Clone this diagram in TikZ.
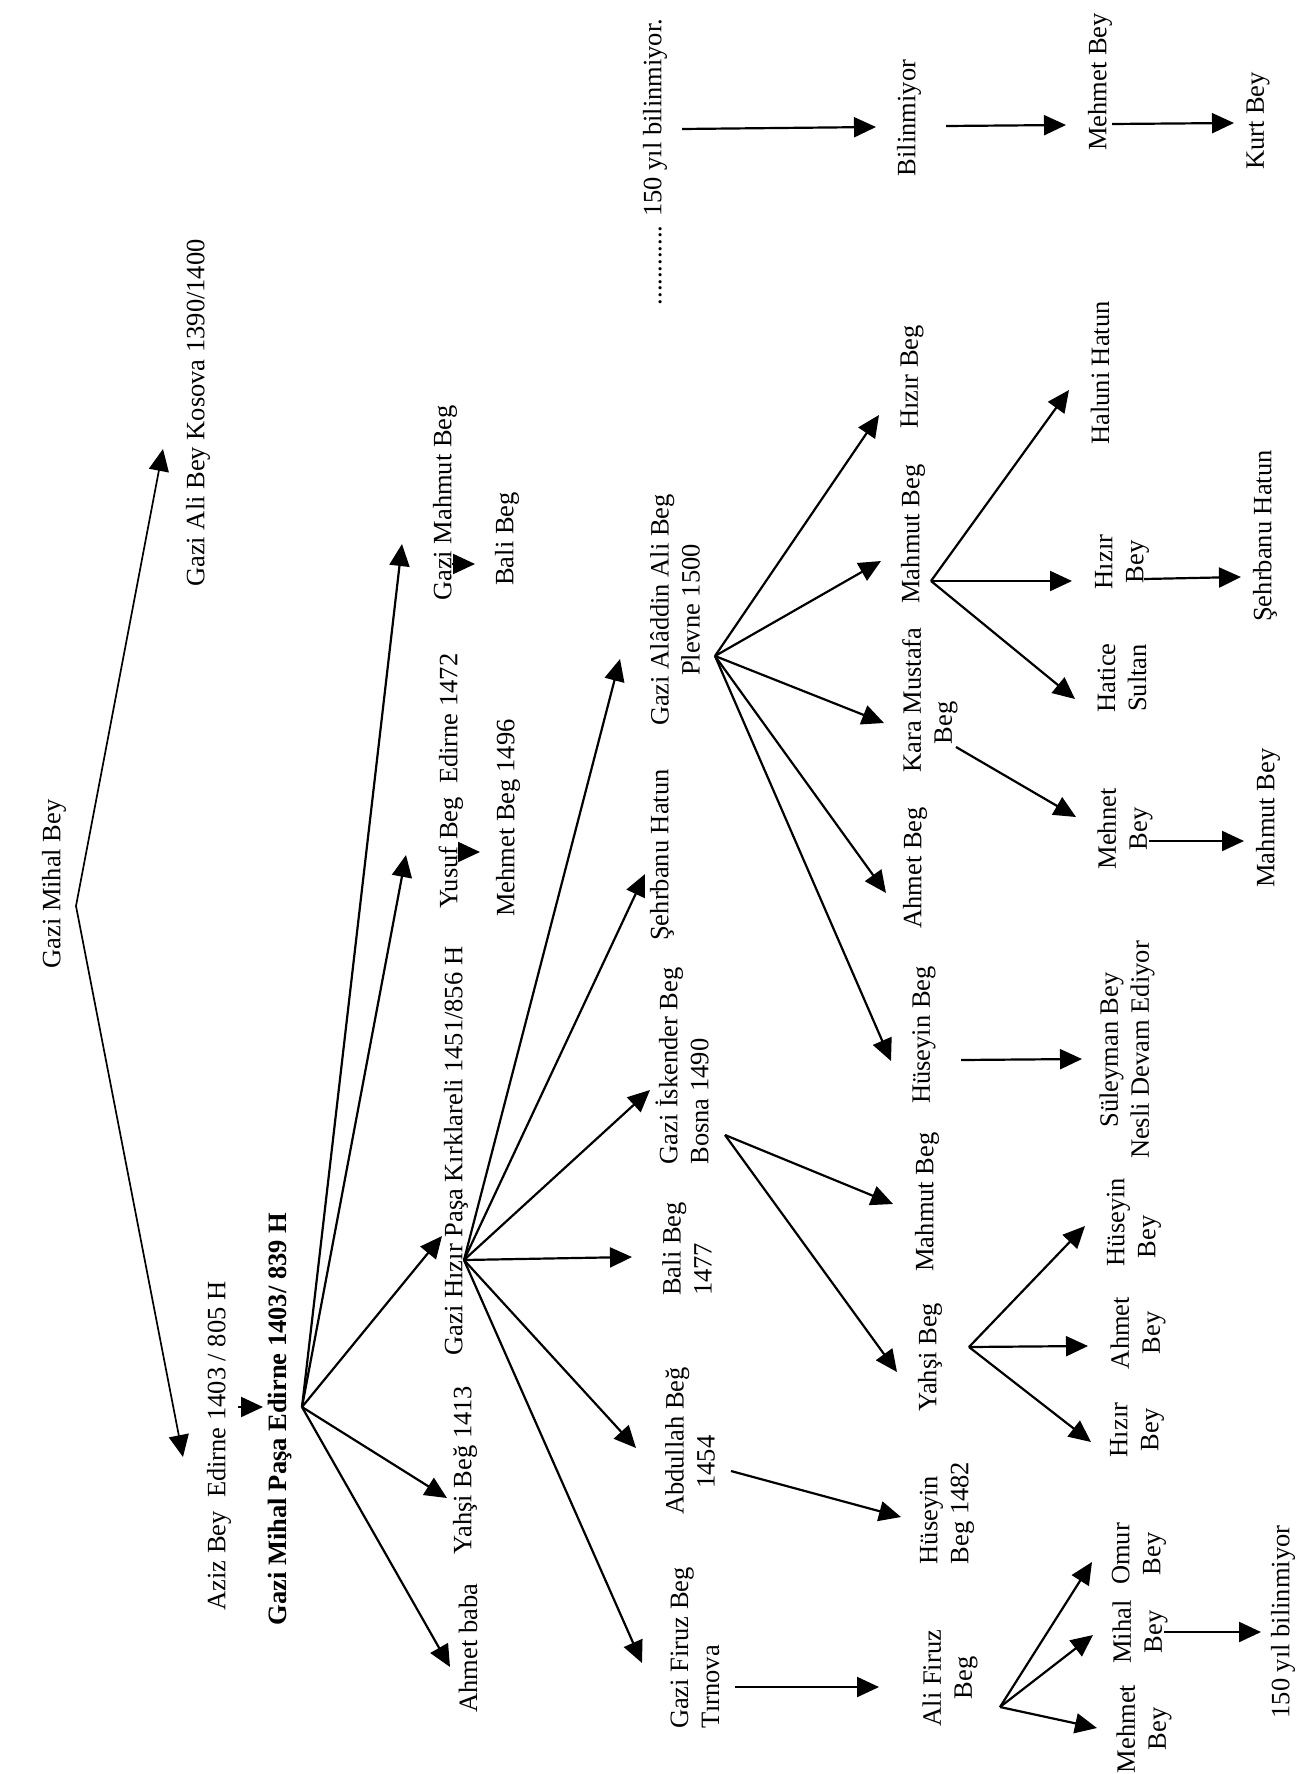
\documentclass[tikz,border=0pt]{standalone}
\usepackage{fontspec}
\setmainfont{Liberation Serif}
\usepackage{tikz}
\usetikzlibrary{arrows.meta}

\begin{document}
\begin{tikzpicture}[x=1pt,y=-1pt,
        person/.style={rotate=90,inner sep=0pt,font=\fontsize{26.5}{31}\selectfont},
        arr/.style={line width=2.2pt,-{Triangle[length=22pt,width=20pt]}}]
    \useasboundingbox (0,0) rectangle (1296,1774);

    % first generations
    \node[person] (mihal) at (54,884) {Gazi Mihal Bey};
    \node[person] (ali) at (198,413) {Gazi Ali Bey Kosova 1390/1400};
    \node[person] (aziz) at (219,1446) {Aziz Bey\ \ Edirne 1403 / 805 H};
    \node[person] (pasa) at (280,1419) {\bfseries Gazi Mihal Paşa Edirne 1403/ 839 H};

    \node[person] (ahmetbaba) at (468,1648) {Ahmet baba};
    \node[person] (yahsi1) at (465,1470) {Yahşi Beğ 1413};
    \node[person] (hizir) at (456,1151) {Gazi Hızır Paşa Kırklareli 1451/856 H};
    \node[person] (yusuf) at (451,781) {Yusuf Beg\ \ Edirne 1472};
    \node[person] (mehmetB) at (508,818) {Mehmet Beg 1496};
    \node[person] (mahmutG) at (445,503) {Gazi Mahmut Beg};
    \node[person] (bali1) at (507,539) {Bali Beg};

    % children of Gazi Hizir Pasa
    \node[person,align=center] (aladdin) at (675,610) {Gazi Alâddin Ali Beg\\Plevne 1500};
    \node[person] (sehrbanuH) at (662,855) {Şehrbanu Hatun};
    \node[person,align=left] (iskender) at (682,1066) {Gazi İskender Beg\\Bosna 1490};
    \node[person,align=left] (bali1477) at (687,1249) {Bali Beg\\1477};
    \node[person,align=center] (abdullah) at (690,1441) {Abdullah Beğ\\1454\hspace*{42pt}};
    \node[person,align=left] (firuz) at (695,1648) {Gazi Firuz Beg\\Tırnova};

    % top row
    \node[person] (yilA) at (655,162) {............ 150 yıl bilinmiyor.};
    \node[person] (bilinmiyor) at (909,118) {Bilinmiyor};
    \node[person] (mehmetT) at (1100,82) {Mehmet Bey};
    \node[person] (kurt) at (1258,121) {Kurt Bey};

    \node[person] (hizirB) at (912,377) {Hızır Beg};
    \node[person] (mahmutB) at (913,534) {Mahmut Beg};
    \node[person,align=center] (karamustafa) at (930,700) {Kara Mustafa\\Beg\hspace*{46pt}};
    \node[person] (ahmetB) at (915,868) {Ahmet Beg};
    \node[person] (huseyinB) at (924,1035) {Hüseyin Beg};
    \node[person] (mahmutM) at (927,1202) {Mahmut Beg};
    \node[person] (yahsiB) at (930,1357) {Yahşi Beg};
    \node[person,align=left] (huseyin1482) at (947,1513) {Hüseyin\\Beg 1482};
    \node[person,align=center] (alifiruz) at (950,1678) {Ali Firuz\\Beg};

    \node[person] (haluni) at (1100,373) {Haluni Hatun};
    \node[person,align=center] (hizirBey) at (1122,562) {Hızır\\Bey};
    \node[person,align=center] (hatice) at (1122,678) {Hatice\\Sultan};
    \node[person,align=center] (mehnet) at (1125,829) {Mehnet\\Bey};
    \node[person,align=center] (suleyman) at (1127,1050) {Süleyman Bey\\Nesli Devam Ediyor};
    \node[person,align=center] (huseyinBey) at (1134,1222) {Hüseyin\\Bey\hspace*{30pt}};
    \node[person,align=center] (ahmetBey) at (1138,1333) {Ahmet\\Bey};
    \node[person,align=center] (hizirBey2) at (1137,1430) {Hızır\\Bey};
    \node[person,align=center] (omur) at (1139,1554) {Omur\\Bey};
    \node[person,align=center] (mihalBey) at (1140,1632) {Mihal\\Bey};
    \node[person,align=center] (mehmetBey) at (1144,1729) {Mehmet\\Bey};

    \node[person] (sehrbanuR) at (1265,536) {Şehrbanu Hatun};
    \node[person] (mahmutBey) at (1268,818) {Mahmut Bey};
    \node[person] (yilB) at (1283,1622) {150 yıl bilinmiyor};

    % branching points
    \coordinate (mihalV) at ([shift={(22,22)}]mihal.center);
    \coordinate (pasaV) at ([shift={(22,-12)}]pasa.center);
    \coordinate (hizirV) at ([shift={(8,109)}]hizir.center);
    \coordinate (aladdinV) at ([shift={(40,46)}]aladdin.center);
    \coordinate (iskenderV) at ([shift={(43,69)}]iskender.center);
    \coordinate (mahmutBV) at ([shift={(18,47)}]mahmutB.center);
    \coordinate (yahsiBV) at ([shift={(39,-10)}]yahsiB.center);
    \coordinate (alifiruzV) at ([shift={(50,29)}]alifiruz.center);

    \foreach \t/\dx/\dy in {ali/-35/36,aziz/-36/11}
        \draw[arr,line width=1.7pt] (mihalV) -- ([shift={(\dx,\dy)}]\t.center);
    \foreach \t/\dx/\dy in {ahmetbaba/-18/19,yahsi1/-18/28,hizir/-14/85,yusuf/-45/74,mahmutG/-43/41}
        \draw[arr] (pasaV) -- ([shift={(\dx,\dy)}]\t.center);
    \foreach \t/\dx/\dy in {aladdin/-55/49,sehrbanuH/-17/19,iskender/-32/24,bali1477/-55/8,abdullah/-54/7,firuz/-53/15}
        \draw[arr] (hizirV) -- ([shift={(\dx,\dy)}]\t.center);
    \foreach \t/\dx/\dy in {hizirB/-33/38,mahmutB/-32/27,karamustafa/-46/23,ahmetB/-29/25,huseyinB/-33/26}
        \draw[arr] (aladdinV) -- ([shift={(\dx,\dy)}]\t.center);
    \foreach \t/\dx/\dy in {mahmutM/-34/2,yahsiB/-33/15}
        \draw[arr] (iskenderV) -- ([shift={(\dx,\dy)}]\t.center);
    \foreach \t/\dx/\dy in {haluni/-31/17,hizirBey/-50/19,hatice/-47/21}
        \draw[arr] (mahmutBV) -- ([shift={(\dx,\dy)}]\t.center);
    \foreach \t/\dx/\dy in {huseyinBey/-49/4,ahmetBey/-50/13,hizirBey2/-46/12}
        \draw[arr] (yahsiBV) -- ([shift={(\dx,\dy)}]\t.center);
    \foreach \t/\dx/\dy in {omur/-47/8,mihalBey/-47/3,mehmetBey/-47/-1}
        \draw[arr] (alifiruzV) -- ([shift={(\dx,\dy)}]\t.center);

    % single descents
    \draw[arr] ([shift={(19,-39)}]aziz.center) -- ([shift={(-17,-12)}]pasa.center);
    \draw[arr] ([shift={(10,71)}]yusuf.center) -- ([shift={(-28,34)}]mehmetB.center);
    \draw[arr] ([shift={(7,61)}]mahmutG.center) -- ([shift={(-32,25)}]bali1.center);
    \draw[arr] ([shift={(27,-33)}]yilA.center) -- ([shift={(-33,9)}]bilinmiyor.center);
    \draw[arr] ([shift={(37,8)}]bilinmiyor.center) -- ([shift={(-34,43)}]mehmetT.center);
    \draw[arr] ([shift={(12,42)}]mehmetT.center) -- ([shift={(-24,2)}]kurt.center);
    \draw[arr] ([shift={(37,25)}]huseyinB.center) -- ([shift={(-45,9)}]suleyman.center);
    \draw[arr] ([shift={(22,17)}]hizirBey.center) -- ([shift={(-24,41)}]sehrbanuR.center);
    \draw[arr] ([shift={(26,47)}]karamustafa.center) -- ([shift={(-49,-12)}]mehnet.center);
    \draw[arr] ([shift={(24,12)}]mehnet.center) -- ([shift={(-24,23)}]mahmutBey.center);
    \draw[arr] ([shift={(41,30)}]abdullah.center) -- ([shift={(-46,4)}]huseyin1482.center);
    \draw[arr] ([shift={(40,39)}]firuz.center) -- ([shift={(-71,9)}]alifiruz.center);
    \draw[arr] ([shift={(24,0)}]mihalBey.center) -- ([shift={(-22,10)}]yilB.center);
\end{tikzpicture}
\end{document}
